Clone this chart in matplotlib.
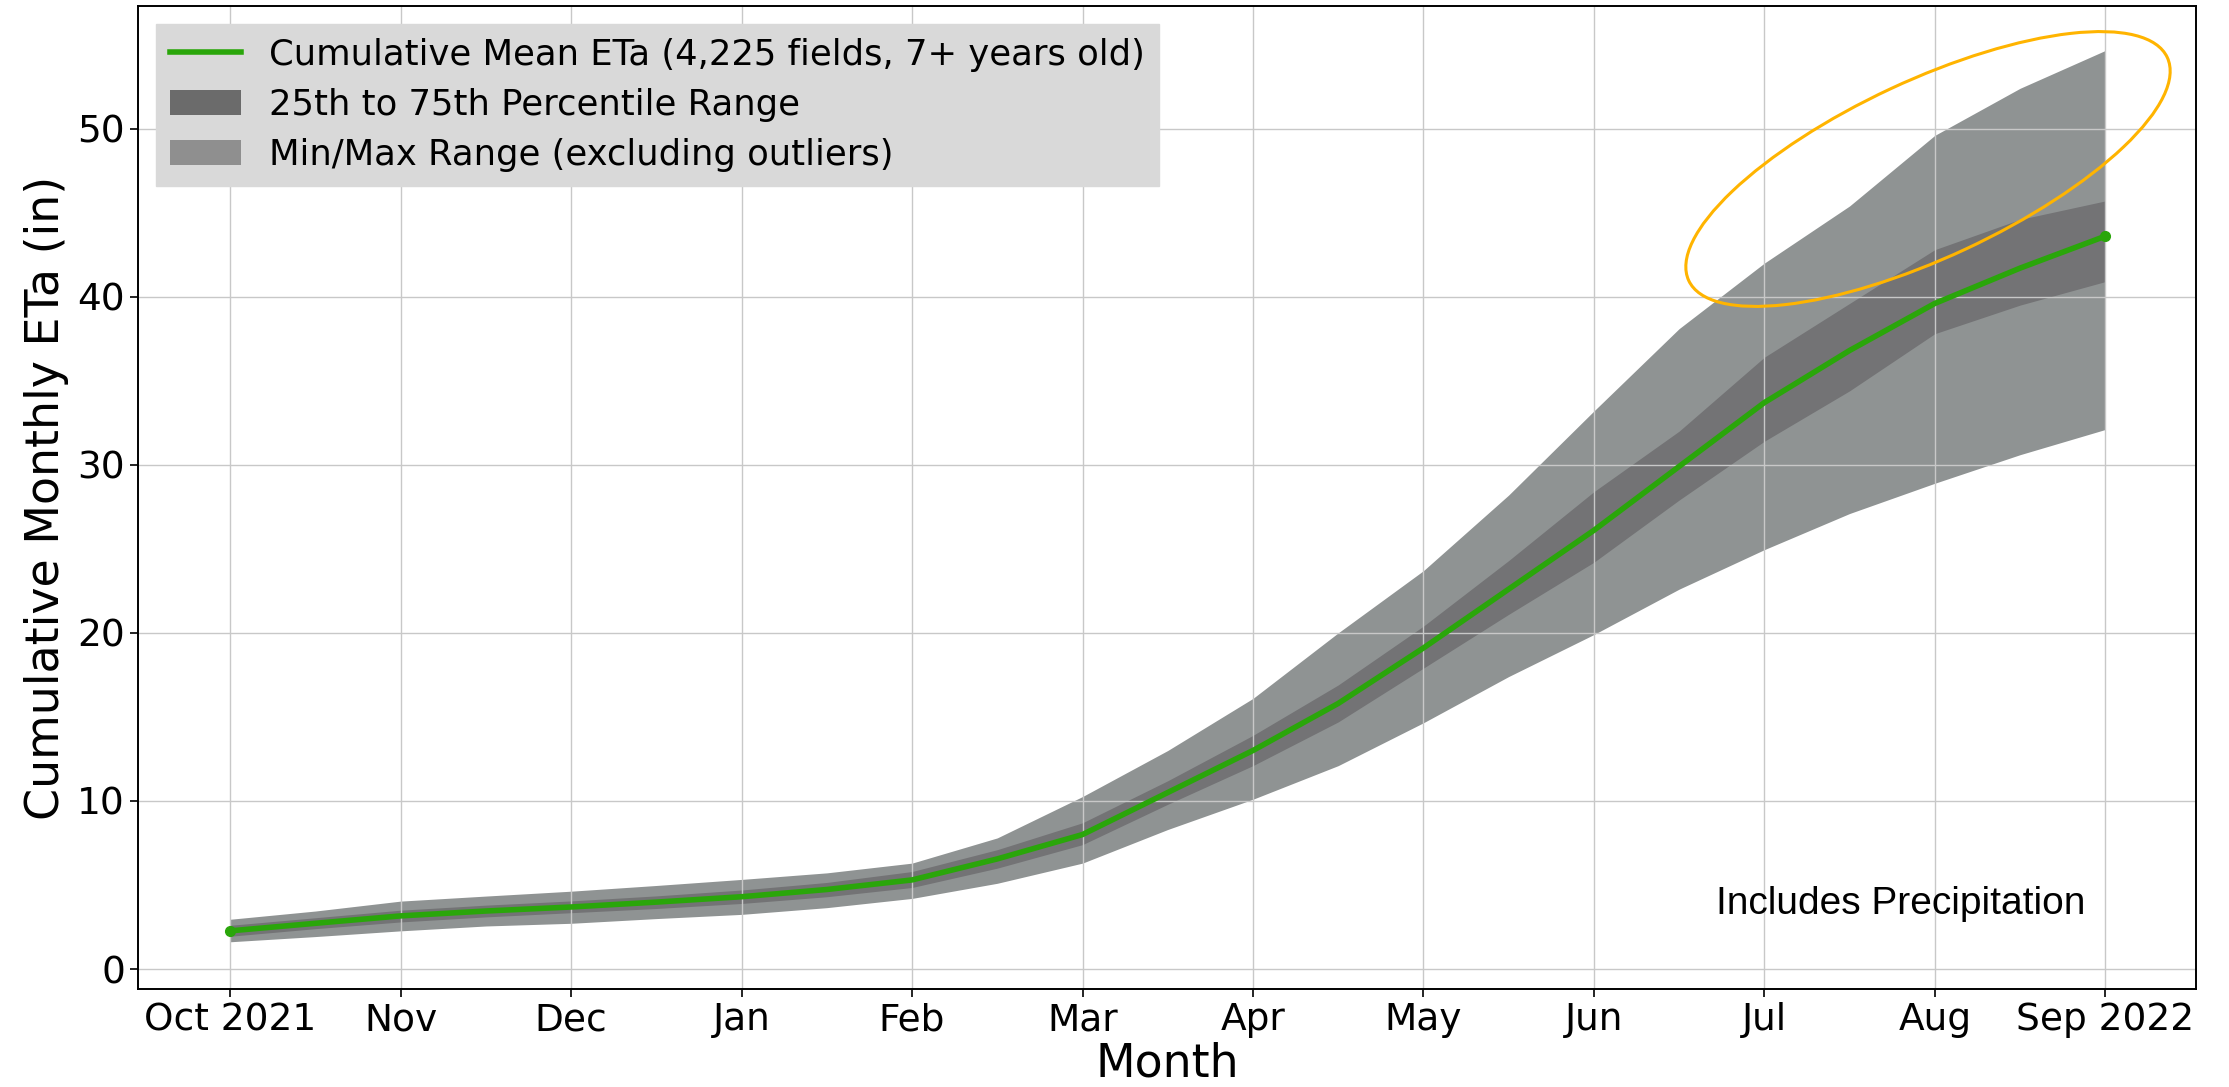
import matplotlib
matplotlib.use("Agg")
import matplotlib.pyplot as plt
import numpy as np
from matplotlib.patches import Ellipse, Patch
from matplotlib.lines import Line2D
from matplotlib.transforms import IdentityTransform

# month tick labels, Oct 2021 .. Sep 2022
months = ["Oct 2021", "Nov", "Dec", "Jan", "Feb", "Mar", "Apr",
          "May", "Jun", "Jul", "Aug", "Sep 2022"]

# cumulative ETa (in), read at the start and middle of every month
mean_eta = [2.27, 2.72, 3.16, 3.45, 3.69, 3.98, 4.30, 4.73, 5.30, 6.55, 8.00, 10.5,
            13.0, 15.8, 19.1, 22.6, 26.1, 29.9, 33.7, 36.8, 39.6, 41.7, 43.6]
p75_eta = [2.60, 3.05, 3.50, 3.80, 4.05, 4.35, 4.70, 5.15, 5.80, 7.10, 8.70, 11.2,
           13.9, 16.9, 20.4, 24.3, 28.4, 32.0, 36.4, 39.6, 42.8, 44.6, 45.7]
p25_eta = [1.95, 2.40, 2.80, 3.10, 3.35, 3.60, 3.90, 4.30, 4.85, 6.00, 7.40, 9.80,
           12.1, 14.7, 17.9, 21.1, 24.2, 27.9, 31.4, 34.4, 37.8, 39.5, 40.9]
max_eta = [2.96, 3.45, 4.04, 4.34, 4.63, 4.97, 5.33, 5.72, 6.30, 7.80, 10.26, 13.0,
           16.1, 20.0, 23.7, 28.2, 33.2, 38.1, 42.0, 45.4, 49.6, 52.4, 54.65]
min_eta = [1.62, 1.93, 2.27, 2.56, 2.72, 3.00, 3.25, 3.65, 4.20, 5.10, 6.30, 8.30,
           10.1, 12.1, 14.65, 17.4, 19.9, 22.6, 24.95, 27.1, 28.9, 30.6, 32.1]

x = np.arange(len(mean_eta)) / 2.0

fig = plt.figure(figsize=(22.29, 10.87), dpi=100)
ax = fig.add_axes([0.062, 0.090, 0.923, 0.9045])

light = '#8f9393'
dark = '#737375'
green = '#2aa60a'

ax.fill_between(x, min_eta, max_eta, color=light, linewidth=0)
ax.fill_between(x, p25_eta, p75_eta, color=dark, linewidth=0)
ax.plot(x, mean_eta, color=green, linewidth=4, marker='o', markersize=7,
        markevery=[0, len(x) - 1])

ax.grid(True, color='#c8c8c8', linewidth=1.0)
ax.set_xticks(range(len(months)))
ax.set_xticklabels(months)
ax.set_yticks([0, 10, 20, 30, 40, 50])
ax.set_xlim(-0.54, 11.53)
ax.set_ylim(-1.2, 57.3)
ax.tick_params(labelsize=27, length=6, width=1.2)
for s in ax.spines.values():
    s.set_linewidth(1.4)

ax.set_xlabel('Month', fontsize=33, labelpad=2)
ax.set_ylabel('Cumulative Monthly ETa (in)', fontsize=33, labelpad=6)

handles = [Line2D([0], [0], color=green, linewidth=4),
           Patch(facecolor='#6b6b6b'),
           Patch(facecolor='#8f8f8f')]
labels = ['Cumulative Mean ETa (4,225 fields, 7+ years old)',
          '25th to 75th Percentile Range',
          'Min/Max Range (excluding outliers)']
leg = ax.legend(handles, labels, loc='upper left', fontsize=25.5,
                fancybox=False, facecolor='#d9d9d9', edgecolor='#d9d9d9',
                framealpha=1.0, borderaxespad=0.5, labelspacing=0.45)

ax.text(0.767, 0.087, 'Includes Precipitation', transform=ax.transAxes,
        fontsize=28, family='Liberation Sans', ha='left', va='center')

# orange highlight round the upper end of the range (drawn in pixels)
ell = Ellipse((1928, 918), 528, 177, angle=25, fill=False,
              edgecolor='#ffb400', linewidth=2.2, transform=IdentityTransform())
fig.patches.append(ell)

fig.savefig('out.png', dpi=100)
